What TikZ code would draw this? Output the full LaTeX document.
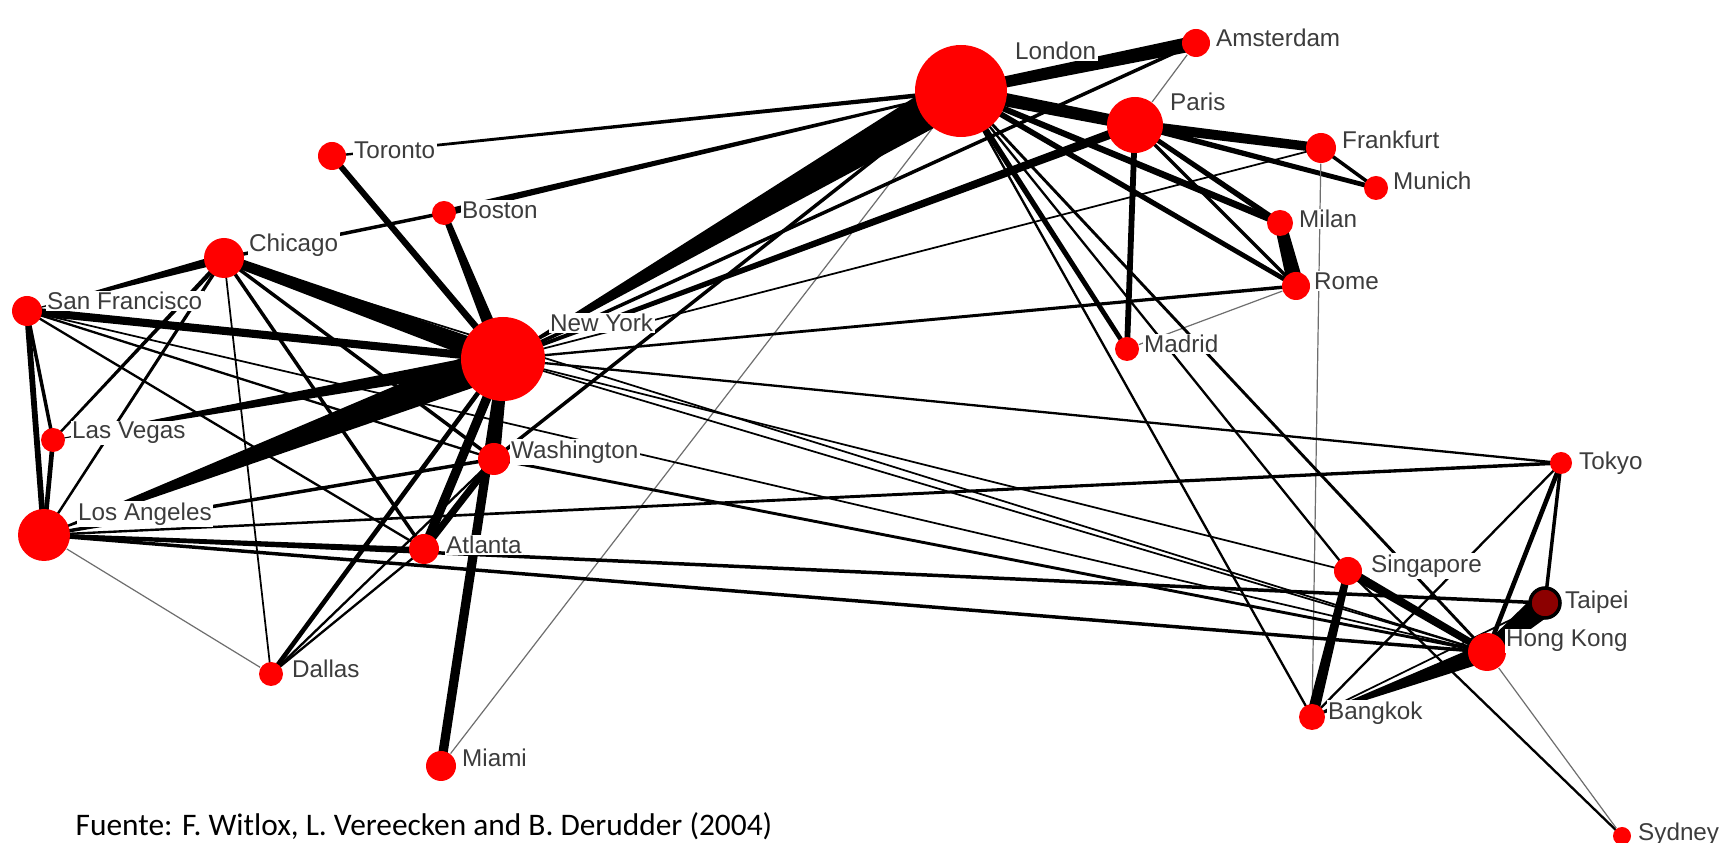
\documentclass[tikz,border=0pt]{standalone}
\usepackage{fontspec}
\setmainfont{Carlito}
\newfontfamily\cityfont{Liberation Sans}
\usepackage{tikz}
\usetikzlibrary{calc,backgrounds}

\definecolor{labelgray}{RGB}{60,60,60}
\definecolor{thingray}{RGB}{110,110,110}
\definecolor{taipeired}{RGB}{140,0,0}

\tikzset{
  city/.style={circle, fill=red, inner sep=0pt, minimum size=#1*0.1mm},
  citylabel/.style={anchor=west, fill=white, inner sep=0.15mm, text=labelgray,
    font=\cityfont\fontsize{6.9}{8}\selectfont},
  flowfill/.style={fill=black},
  thinflow/.style={draw=thingray, line width=0.12mm}
}

% tapered connector: from, to, width at from, width at to (px)
\newcommand{\flow}[4]{%
  \fill[flowfill] ($(#1.center)!#3*0.058mm!90:(#2.center)$) -- ($(#1.center)!#3*0.058mm!-90:(#2.center)$)
    -- ($(#2.center)!#4*0.058mm!90:(#1.center)$) -- ($(#2.center)!#4*0.058mm!-90:(#1.center)$) -- cycle;}

\begin{document}
\begin{tikzpicture}
    [x=0.1mm,y=-0.1mm]
    \useasboundingbox (0,0) rectangle (1733,843);
    % cities
    \node[city=92] (lon) at (961,91) {};
    \node[city=28] (ams) at (1196,43) {};
    \node[city=56] (par) at (1135,125) {};
    \node[city=30] (fra) at (1321,148) {};
    \node[city=24] (mun) at (1376,188) {};
    \node[city=26] (mil) at (1280,223) {};
    \node[city=28] (rom) at (1296,286) {};
    \node[city=24] (mad) at (1127,349) {};
    \node[city=28] (tor) at (332,156) {};
    \node[city=24] (bos) at (444,213) {};
    \node[city=40] (chi) at (224,258) {};
    \node[city=30] (sfo) at (27,311) {};
    \node[city=84] (nyc) at (503,359) {};
    \node[city=24] (las) at (53,440) {};
    \node[city=32] (was) at (494,459) {};
    \node[city=52] (lax) at (44,535) {};
    \node[city=30] (atl) at (424,549) {};
    \node[city=24] (dal) at (271,674) {};
    \node[city=30] (mia) at (441,766) {};
    \node[city=22] (tyo) at (1561,463) {};
    \node[city=28] (sin) at (1348,571) {};
    \node[city=30, fill=taipeired, draw=black, line width=0.35mm] (tpe) at (1545,603) {};
    \node[city=38] (hkg) at (1487,652) {};
    \node[city=26] (bkk) at (1312,717) {};
    \node[city=18] (syd) at (1622,836) {};

    \begin{scope}[on background layer]
    \fill[white] (0,0) rectangle (1733,843);
    % europe
    \flow{lon}{ams}{9}{13}
    \flow{lon}{par}{12}{10}
    \flow{par}{fra}{9}{8}
    \flow{par}{mun}{5}{4}
    \flow{fra}{mun}{3}{3}
    \flow{par}{mil}{4}{5}
    \flow{par}{rom}{3}{3}
    \flow{lon}{mil}{5}{6}
    \flow{lon}{rom}{5}{4}
    \flow{mil}{rom}{10}{14}
    \flow{par}{mad}{5}{5}
    \flow{lon}{mad}{5}{4}
    \draw[thinflow] (mad) -- (rom);
    \draw[thinflow] (ams) -- (par);
    \draw[thinflow] (fra) -- (bkk);
    \draw[thinflow] (mia) -- (lon);
    \flow{lon}{bkk}{2}{2}
    \flow{lon}{sin}{2}{2}
    \flow{lon}{hkg}{2.5}{2.5}
    % across the atlantic
    \flow{nyc}{lon}{0.5}{34}
    \flow{nyc}{par}{3}{8}
    \flow{nyc}{ams}{3}{3}
    \flow{nyc}{rom}{2}{3}
    \flow{nyc}{fra}{1.5}{1.5}
    \flow{tor}{lon}{2}{4}
    \flow{bos}{lon}{6}{2}
    \flow{was}{lon}{3}{3}
    % north america
    \flow{tor}{nyc}{5}{6}
    \flow{bos}{nyc}{5}{12}
    \flow{chi}{bos}{3}{3}
    \flow{chi}{nyc}{8}{18}
    \flow{sfo}{chi}{0.5}{8}
    \flow{sfo}{nyc}{7}{7}
    \flow{sfo}{lax}{5}{5}
    \flow{sfo}{las}{3}{3}
    \flow{las}{lax}{4}{4}
    \flow{las}{chi}{2}{4}
    \flow{lax}{chi}{2}{3}
    \flow{lax}{nyc}{0.5}{30}
    \flow{las}{nyc}{0.5}{14}
    \flow{lax}{was}{3}{3}
    \flow{lax}{atl}{3}{3}
    \draw[thinflow] (lax) -- (dal);
    \flow{sfo}{was}{2}{2}
    \flow{sfo}{atl}{2}{2}
    \flow{chi}{was}{3}{3}
    \flow{chi}{atl}{3}{3}
    \flow{chi}{dal}{1.5}{1.5}
    \flow{nyc}{was}{10}{10}
    \flow{nyc}{atl}{8}{8}
    \flow{was}{atl}{6}{6}
    \flow{nyc}{mia}{8}{8}
    \flow{nyc}{dal}{4}{4}
    \flow{was}{dal}{2}{2}
    \flow{atl}{dal}{2}{2}
    % across the pacific
    \flow{lax}{tyo}{2}{3}
    \flow{lax}{tpe}{3}{3}
    \flow{lax}{hkg}{3}{3}
    \flow{nyc}{tyo}{2}{2}
    \flow{nyc}{hkg}{1.5}{1.5}
    \flow{nyc}{sin}{1.5}{1.5}
    \flow{was}{hkg}{2.5}{2.5}
    \flow{sfo}{hkg}{1.5}{1.5}
    \flow{chi}{hkg}{1.5}{1.5}
    % asia
    \flow{tyo}{hkg}{4}{4}
    \flow{tyo}{tpe}{3}{3}
    \flow{tyo}{bkk}{2}{2}
    \flow{tpe}{hkg}{22}{12}
    \flow{sin}{hkg}{8}{6}
    \flow{sin}{bkk}{6}{10}
    \flow{bkk}{hkg}{0.5}{16}
    \flow{bkk}{tpe}{1.5}{1.5}
    \flow{sin}{syd}{2}{2}
    \draw[thinflow] (hkg) -- (syd);
    \end{scope}

    % labels
    \node[citylabel] (lon-l) at (1013,51) {London};
    \node[citylabel] (ams-l) at (1214,38) {Amsterdam};
    \node[citylabel] (par-l) at (1168,102) {Paris};
    \node[citylabel] (fra-l) at (1340,140) {Frankfurt};
    \node[citylabel] (mun-l) at (1391,181) {Munich};
    \node[citylabel] (mil-l) at (1297,219) {Milan};
    \node[citylabel] (rom-l) at (1312,281) {Rome};
    \node[citylabel] (mad-l) at (1142,344) {Madrid};
    \node[citylabel] (tor-l) at (352,150) {Toronto};
    \node[citylabel] (bos-l) at (460,210) {Boston};
    \node[citylabel] (chi-l) at (247,245) {Chicago};
    \node[citylabel] (sfo-l) at (45,301) {San Francisco};
    \node[citylabel] (nyc-l) at (548,323) {New York};
    \node[citylabel] (las-l) at (70,433) {Las Vegas};
    \node[citylabel] (was-l) at (509,452) {Washington};
    \node[citylabel] (lax-l) at (76,514) {Los Angeles};
    \node[citylabel] (atl-l) at (444,545) {Atlanta};
    \node[citylabel] (dal-l) at (290,669) {Dallas};
    \node[citylabel] (mia-l) at (460,758) {Miami};
    \node[citylabel] (tyo-l) at (1577,463) {Tokyo};
    \node[citylabel] (sin-l) at (1369,566) {Singapore};
    \node[citylabel] (tpe-l) at (1563,602) {Taipei};
    \node[citylabel] (hkg-l) at (1504,641) {Hong Kong};
    \node[citylabel] (bkk-l) at (1326,713) {Bangkok};
    \node[citylabel] (syd-l) at (1636,834) {Sydney};

    \node[anchor=base west, inner sep=0pt, font=\fontsize{8.93}{10.7}\selectfont] (source) at (75,836)
      {Fuente: F. Witlox, L. Vereecken and B. Derudder (2004)};
\end{tikzpicture}
\end{document}
